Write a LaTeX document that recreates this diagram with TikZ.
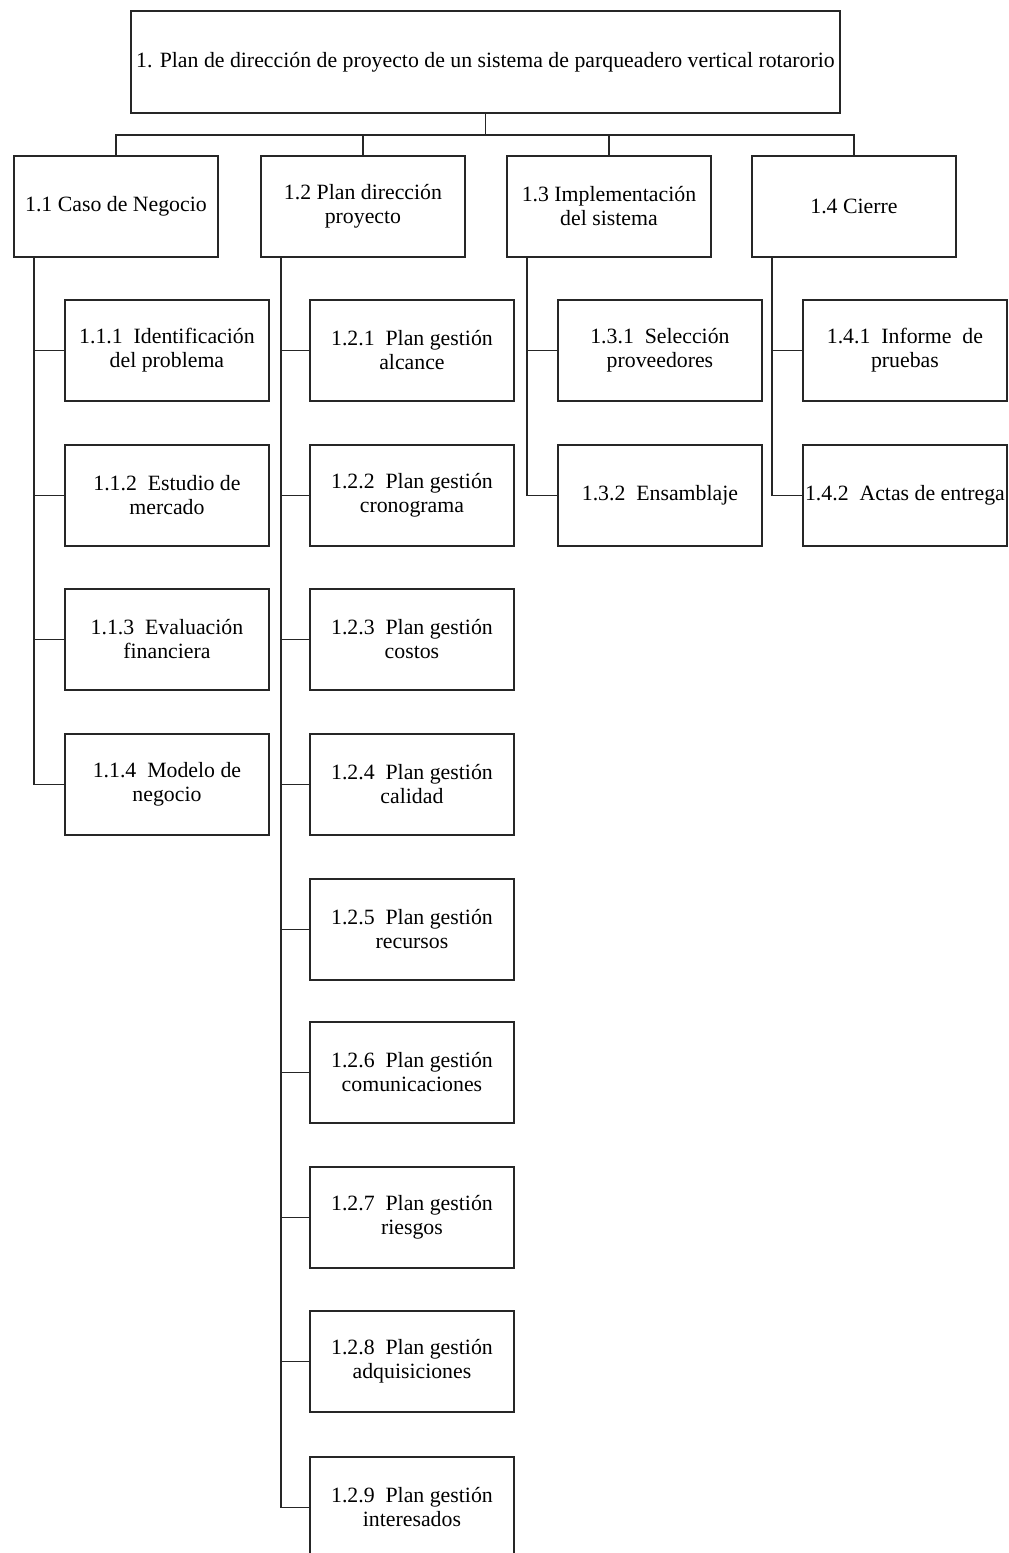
\documentclass[tikz,border=0pt]{standalone}
\usepackage{fontspec}
\setmainfont{Liberation Serif}
\usetikzlibrary{calc}
\tikzset{
  x=0.5pt, y=-0.5pt,
  wbs/.style={draw=black!85, line width=0.95pt, fill=white, align=center,
    inner sep=0pt, font=\fontsize{10.9}{12}\selectfont,
    minimum width=102pt, minimum height=50.5pt, anchor=north west},
  topbox/.style={wbs, minimum width=354.5pt, minimum height=51pt},
  conn/.style={draw=black!85, line width=0.95pt},
}
\begin{document}
\begin{tikzpicture}
\useasboundingbox (0,0) rectangle (1008,1553);
\clip (0,0) rectangle (1008,1553);

% top
\node[topbox] (top) at (130,10) {1. Plan de dirección de proyecto de un sistema de parqueadero vertical rotarorio};

% level 2
\node[wbs] (a) at (13,155) {1.1 Caso de Negocio};
\node[wbs] (b) at (260,155) {1.2 Plan dirección\\proyecto};
\node[wbs] (c) at (506,155) {1.3 Implementación\\del sistema};
\node[wbs] (d) at (751,155) {1.4 Cierre};

% level 3 - column 1
\node[wbs] (a1) at (64,299) {1.1.1~ Identificación\\del problema};
\node[wbs] (a2) at (64,444) {1.1.2~ Estudio de\\mercado};
\node[wbs] (a3) at (64,588) {1.1.3~ Evaluación\\financiera};
\node[wbs] (a4) at (64,733) {1.1.4~ Modelo de\\negocio};

% level 3 - column 2
\node[wbs] (b1) at (309,299) {1.2.1~ Plan gestión\\alcance};
\node[wbs] (b2) at (309,444) {1.2.2~ Plan gestión\\cronograma};
\node[wbs] (b3) at (309,588) {1.2.3~ Plan gestión\\costos};
\node[wbs] (b4) at (309,733) {1.2.4~ Plan gestión\\calidad};
\node[wbs] (b5) at (309,878) {1.2.5~ Plan gestión\\recursos};
\node[wbs] (b6) at (309,1021) {1.2.6~ Plan gestión\\comunicaciones};
\node[wbs] (b7) at (309,1166) {1.2.7~ Plan gestión\\riesgos};
\node[wbs] (b8) at (309,1310) {1.2.8~ Plan gestión\\adquisiciones};
\node[wbs] (b9) at (309,1456) {1.2.9~ Plan gestión\\interesados};

% level 3 - column 3
\node[wbs] (c1) at (557,299) {1.3.1~ Selección\\proveedores};
\node[wbs] (c2) at (557,444) {1.3.2~ Ensamblaje};

% level 3 - column 4
\node[wbs] (d1) at (802,299) {1.4.1~ Informe~ de\\pruebas};
\node[wbs] (d2) at (802,444) {1.4.2~ Actas de entrega};

% top connectors
\foreach \n in {a,b,c,d}
  \draw[conn] (top.south) -- ++(0,21) -| (\n.north);

% level 3 connectors
\foreach \p/\kids in {a/{a1,a2,a3,a4}, b/{b1,b2,b3,b4,b5,b6,b7,b8,b9}, c/{c1,c2}, d/{d1,d2}}
  \foreach \k in \kids
    \draw[conn] ($(\p.south west)+(21,0)$) |- (\k.west);
\end{tikzpicture}
\end{document}
